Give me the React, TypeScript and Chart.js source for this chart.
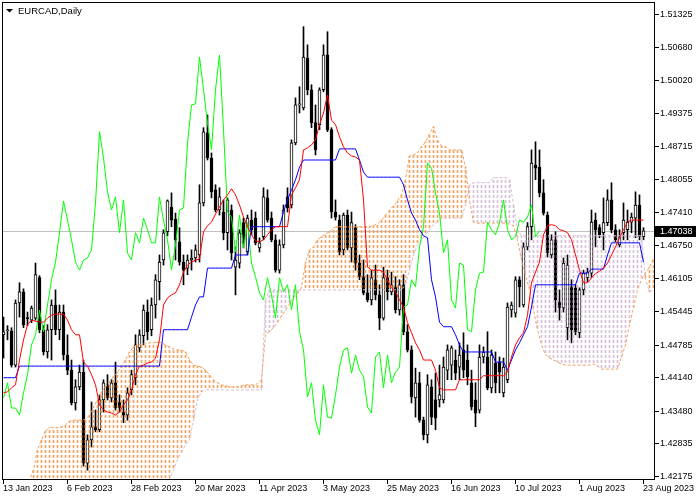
import React, { useEffect, useRef } from "react";
import { Chart, registerables } from "chart.js";

Chart.register(...registerables);

const chartTitle = "EURCAD,Daily";
const dateLabels = ["13 Jan 2023", "6 Feb 2023", "28 Feb 2023", "20 Mar 2023", "11 Apr 2023", "3 May 2023", "25 May 2023", "16 Jun 2023", "10 Jul 2023", "1 Aug 2023", "23 Aug 2023"];
const dateLabelBars = [0, 16, 32, 48, 64, 80, 96, 112, 128, 144, 160];
const priceTicks = [1.51325, 1.5068, 1.5002, 1.49375, 1.48715, 1.48055, 1.4741, 1.4675, 1.46105, 1.45445, 1.44785, 1.4414, 1.4348, 1.42835, 1.42175];
const lastPrice = 1.47038;
const chikouShift = 26;
const kumoBarOffset = 0.5;

const open = [
  1.4498, 1.4506, 1.4506, 1.4438, 1.4561, 1.4583, 1.4531, 1.4527, 1.4531, 1.4611,
  1.4508, 1.4464, 1.4508, 1.4557, 1.4508, 1.4543, 1.4458, 1.4428, 1.4363, 1.4395,
  1.4424, 1.4244, 1.4290, 1.4316, 1.4310, 1.4369, 1.4399, 1.4373, 1.4403, 1.4365,
  1.4345, 1.4339, 1.4389, 1.4413, 1.4472, 1.4496, 1.4543, 1.4508, 1.4557, 1.4603,
  1.4646, 1.4702, 1.4751, 1.4727, 1.4682, 1.4642, 1.4630, 1.4646, 1.4650, 1.4656,
  1.4759, 1.4898, 1.4848, 1.4785, 1.4745, 1.4741, 1.4700, 1.4745, 1.4632, 1.4640,
  1.4720, 1.4662, 1.4725, 1.4729, 1.4670, 1.4692, 1.4769, 1.4729, 1.4686, 1.4626,
  1.4676, 1.4771, 1.4755, 1.4878, 1.4953, 1.4947, 1.5046, 1.4983, 1.4918, 1.4914,
  1.4983, 1.5052, 1.4904, 1.4741, 1.4725, 1.4666, 1.4735, 1.4670, 1.4710, 1.4640,
  1.4613, 1.4581, 1.4567, 1.4607, 1.4577, 1.4531, 1.4611, 1.4583, 1.4593, 1.4547,
  1.4597, 1.4504, 1.4468, 1.4373, 1.4403, 1.4329, 1.4300, 1.4395, 1.4369, 1.4369,
  1.4369, 1.4428, 1.4438, 1.4448, 1.4434, 1.4468, 1.4448, 1.4403, 1.4369, 1.4349,
  1.4454, 1.4454, 1.4393, 1.4442, 1.4444, 1.4383, 1.4409, 1.4547, 1.4541, 1.4607,
  1.4557, 1.4672, 1.4712, 1.4834, 1.4830, 1.4779, 1.4735, 1.4656, 1.4686, 1.4563,
  1.4551, 1.4512, 1.4593, 1.4591, 1.4502, 1.4587, 1.4611, 1.4620, 1.4725, 1.4710,
  1.4700, 1.4720, 1.4765, 1.4706, 1.4676, 1.4700, 1.4706, 1.4721, 1.4729, 1.4755,
  1.4692,
];
const high = [
  1.4533, 1.4516, 1.4512, 1.4567, 1.4601, 1.4589, 1.4543, 1.4555, 1.4640, 1.4615,
  1.4516, 1.4518, 1.4567, 1.4587, 1.4557, 1.4557, 1.4498, 1.4448, 1.4409, 1.4438,
  1.4448, 1.4300, 1.4365, 1.4349, 1.4379, 1.4409, 1.4419, 1.4409, 1.4444, 1.4379,
  1.4369, 1.4393, 1.4428, 1.4498, 1.4508, 1.4557, 1.4567, 1.4571, 1.4617, 1.4656,
  1.4706, 1.4765, 1.4779, 1.4739, 1.4710, 1.4656, 1.4656, 1.4666, 1.4676, 1.4795,
  1.4908, 1.4933, 1.4858, 1.4795, 1.4789, 1.4765, 1.4769, 1.4755, 1.4672, 1.4706,
  1.4729, 1.4735, 1.4745, 1.4741, 1.4690, 1.4789, 1.4785, 1.4741, 1.4696, 1.4686,
  1.4755, 1.4789, 1.4884, 1.4967, 1.4989, 1.5108, 1.5072, 1.4993, 1.4953, 1.4987,
  1.5072, 1.5098, 1.4908, 1.4765, 1.4735, 1.4739, 1.4745, 1.4741, 1.4716, 1.4656,
  1.4646, 1.4617, 1.4626, 1.4636, 1.4597, 1.4632, 1.4626, 1.4622, 1.4613, 1.4607,
  1.4617, 1.4518, 1.4476, 1.4432, 1.4424, 1.4335, 1.4419, 1.4409, 1.4422, 1.4438,
  1.4454, 1.4478, 1.4476, 1.4468, 1.4482, 1.4502, 1.4478, 1.4428, 1.4403, 1.4478,
  1.4474, 1.4504, 1.4468, 1.4464, 1.4454, 1.4452, 1.4561, 1.4563, 1.4613, 1.4613,
  1.4680, 1.4720, 1.4864, 1.4880, 1.4864, 1.4805, 1.4741, 1.4696, 1.4702, 1.4587,
  1.4650, 1.4656, 1.4607, 1.4597, 1.4591, 1.4626, 1.4630, 1.4745, 1.4739, 1.4716,
  1.4769, 1.4785, 1.4799, 1.4716, 1.4706, 1.4759, 1.4745, 1.4739, 1.4781, 1.4775,
  1.4710,
];
const low = [
  1.4452, 1.4488, 1.4434, 1.4434, 1.4533, 1.4512, 1.4516, 1.4522, 1.4527, 1.4502,
  1.4458, 1.4452, 1.4448, 1.4498, 1.4488, 1.4448, 1.4419, 1.4359, 1.4349, 1.4389,
  1.4238, 1.4230, 1.4276, 1.4306, 1.4306, 1.4345, 1.4369, 1.4365, 1.4349, 1.4345,
  1.4324, 1.4329, 1.4379, 1.4399, 1.4464, 1.4478, 1.4488, 1.4496, 1.4531, 1.4567,
  1.4636, 1.4694, 1.4712, 1.4646, 1.4636, 1.4597, 1.4617, 1.4626, 1.4642, 1.4642,
  1.4753, 1.4844, 1.4769, 1.4741, 1.4735, 1.4686, 1.4666, 1.4646, 1.4577, 1.4630,
  1.4670, 1.4656, 1.4696, 1.4676, 1.4662, 1.4686, 1.4721, 1.4682, 1.4622, 1.4620,
  1.4670, 1.4741, 1.4749, 1.4874, 1.4937, 1.4943, 1.4973, 1.4908, 1.4854, 1.4904,
  1.4979, 1.4900, 1.4729, 1.4725, 1.4656, 1.4656, 1.4666, 1.4642, 1.4626, 1.4607,
  1.4577, 1.4563, 1.4557, 1.4567, 1.4508, 1.4527, 1.4567, 1.4577, 1.4541, 1.4537,
  1.4498, 1.4464, 1.4363, 1.4335, 1.4325, 1.4290, 1.4284, 1.4320, 1.4310, 1.4355,
  1.4363, 1.4409, 1.4409, 1.4409, 1.4409, 1.4413, 1.4399, 1.4349, 1.4316, 1.4343,
  1.4442, 1.4389, 1.4383, 1.4383, 1.4383, 1.4375, 1.4403, 1.4533, 1.4533, 1.4553,
  1.4553, 1.4666, 1.4686, 1.4805, 1.4771, 1.4735, 1.4652, 1.4650, 1.4543, 1.4527,
  1.4543, 1.4488, 1.4482, 1.4498, 1.4492, 1.4577, 1.4603, 1.4611, 1.4672, 1.4690,
  1.4666, 1.4714, 1.4700, 1.4682, 1.4672, 1.4686, 1.4686, 1.4700, 1.4690, 1.4686,
  1.4686,
];
const close = [
  1.4504, 1.4508, 1.4438, 1.4561, 1.4583, 1.4518, 1.4530, 1.4551, 1.4617, 1.4508,
  1.4464, 1.4508, 1.4557, 1.4508, 1.4543, 1.4458, 1.4428, 1.4363, 1.4395, 1.4424,
  1.4244, 1.4290, 1.4316, 1.4310, 1.4369, 1.4403, 1.4373, 1.4403, 1.4353, 1.4353,
  1.4339, 1.4383, 1.4419, 1.4478, 1.4498, 1.4547, 1.4504, 1.4557, 1.4607, 1.4642,
  1.4700, 1.4763, 1.4725, 1.4686, 1.4642, 1.4626, 1.4646, 1.4650, 1.4666, 1.4759,
  1.4900, 1.4848, 1.4781, 1.4745, 1.4771, 1.4700, 1.4765, 1.4660, 1.4646, 1.4700,
  1.4680, 1.4729, 1.4706, 1.4680, 1.4680, 1.4771, 1.4725, 1.4686, 1.4626, 1.4676,
  1.4745, 1.4749, 1.4878, 1.4953, 1.4955, 1.5048, 1.4983, 1.4918, 1.4864, 1.4983,
  1.5052, 1.4904, 1.4741, 1.4731, 1.4662, 1.4735, 1.4670, 1.4720, 1.4640, 1.4613,
  1.4581, 1.4567, 1.4611, 1.4577, 1.4531, 1.4611, 1.4583, 1.4597, 1.4547, 1.4597,
  1.4504, 1.4468, 1.4375, 1.4403, 1.4329, 1.4300, 1.4399, 1.4335, 1.4333, 1.4379,
  1.4434, 1.4468, 1.4472, 1.4422, 1.4458, 1.4428, 1.4415, 1.4355, 1.4343, 1.4454,
  1.4464, 1.4393, 1.4458, 1.4403, 1.4424, 1.4434, 1.4553, 1.4557, 1.4607, 1.4593,
  1.4672, 1.4712, 1.4838, 1.4828, 1.4779, 1.4739, 1.4660, 1.4686, 1.4567, 1.4551,
  1.4640, 1.4636, 1.4508, 1.4504, 1.4587, 1.4620, 1.4622, 1.4721, 1.4706, 1.4696,
  1.4720, 1.4765, 1.4706, 1.4686, 1.4692, 1.4725, 1.4721, 1.4731, 1.4755, 1.4692,
  1.47038,
];
const tenkan = [
  1.4383, 1.4385, 1.4393, 1.4399, 1.4448, 1.4488, 1.4518, 1.4527, 1.4525, 1.4523,
  1.4523, 1.4531, 1.4537, 1.4539, 1.4539, 1.4539, 1.4527, 1.4508, 1.4498, 1.4498,
  1.4444, 1.4436, 1.4419, 1.4399, 1.4359, 1.4349, 1.4345, 1.4343, 1.4339, 1.4345,
  1.4359, 1.4369, 1.4389, 1.4419, 1.4436, 1.4438, 1.4442, 1.4444, 1.4452, 1.4488,
  1.4557, 1.4571, 1.4577, 1.4581, 1.4597, 1.4622, 1.4636, 1.4642, 1.4646, 1.4648,
  1.4702, 1.4714, 1.4721, 1.4737, 1.4751, 1.4765, 1.4775, 1.4787, 1.4775, 1.4755,
  1.4731, 1.4712, 1.4696, 1.4684, 1.4682, 1.4686, 1.4696, 1.4706, 1.4712, 1.4712,
  1.4712, 1.4712, 1.4775, 1.4789, 1.4805, 1.4864, 1.4868, 1.4874, 1.4884, 1.4914,
  1.4937, 1.4973, 1.4923, 1.4914, 1.4890, 1.4870, 1.4858, 1.4852, 1.4850, 1.4844,
  1.4765, 1.4632, 1.4626, 1.4626, 1.4626, 1.4622, 1.4607, 1.4591, 1.4583, 1.4567,
  1.4553, 1.4522, 1.4502, 1.4482, 1.4468, 1.4448, 1.4448, 1.4448, 1.4428, 1.4393,
  1.4389, 1.4389, 1.4389, 1.4389, 1.4409, 1.4409, 1.4409, 1.4409, 1.4409, 1.4409,
  1.4417, 1.4417, 1.4417, 1.4417, 1.4417, 1.4417, 1.4424, 1.4454, 1.4478, 1.4492,
  1.4502, 1.4537, 1.4601, 1.4622, 1.4642, 1.4696, 1.4714, 1.4716, 1.4714, 1.4706,
  1.4704, 1.4700, 1.4686, 1.4656, 1.4626, 1.4601, 1.4601, 1.4611, 1.4619, 1.4624,
  1.4630, 1.4640, 1.4656, 1.4672, 1.4690, 1.4706, 1.4721, 1.4725, 1.4725, 1.4725,
  1.4725,
];
const kijun = [
  1.4413, 1.4413, 1.4413, 1.4413, 1.4436, 1.4436, 1.4436, 1.4436, 1.4436, 1.4436,
  1.4436, 1.4436, 1.4436, 1.4436, 1.4436, 1.4436, 1.4436, 1.4436, 1.4436, 1.4436,
  1.4436, 1.4436, 1.4436, 1.4436, 1.4436, 1.4436, 1.4436, 1.4436, 1.4436, 1.4436,
  1.4436, 1.4436, 1.4436, 1.4436, 1.4436, 1.4436, 1.4436, 1.4436, 1.4436, 1.4436,
  1.4508, 1.4508, 1.4508, 1.4508, 1.4508, 1.4508, 1.4508, 1.4533, 1.4557, 1.4573,
  1.4573, 1.4630, 1.4630, 1.4630, 1.4630, 1.4630, 1.4630, 1.4630, 1.4656, 1.4656,
  1.4656, 1.4656, 1.4712, 1.4712, 1.4712, 1.4712, 1.4712, 1.4712, 1.4712, 1.4712,
  1.4741, 1.4765, 1.4785, 1.4805, 1.4830, 1.4844, 1.4844, 1.4844, 1.4844, 1.4844,
  1.4844, 1.4844, 1.4844, 1.4844, 1.4866, 1.4866, 1.4866, 1.4866, 1.4866, 1.4844,
  1.4820, 1.4810, 1.4810, 1.4810, 1.4810, 1.4810, 1.4810, 1.4810, 1.4810, 1.4810,
  1.4795, 1.4765, 1.4739, 1.4725, 1.4706, 1.4694, 1.4690, 1.4607, 1.4573, 1.4523,
  1.4514, 1.4514, 1.4514, 1.4498, 1.4478, 1.4464, 1.4464, 1.4464, 1.4464, 1.4464,
  1.4464, 1.4464, 1.4464, 1.4444, 1.4444, 1.4444, 1.4428, 1.4448, 1.4468, 1.4482,
  1.4498, 1.4514, 1.4553, 1.4597, 1.4597, 1.4597, 1.4597, 1.4597, 1.4597, 1.4597,
  1.4597, 1.4597, 1.4597, 1.4597, 1.4620, 1.4620, 1.4620, 1.4628, 1.4628, 1.4628,
  1.4628, 1.4656, 1.4680, 1.4680, 1.4680, 1.4680, 1.4680, 1.4680, 1.4680, 1.4680,
  1.4642,
];
const senkouA = [
  1.4171, 1.4181, 1.4191, 1.4197, 1.4201, 1.4205, 1.4209, 1.4231, 1.4270, 1.4290,
  1.4308, 1.4314, 1.4314, 1.4314, 1.4316, 1.4320, 1.4327, 1.4329, 1.4329, 1.4329,
  1.4331, 1.4339, 1.4355, 1.4369, 1.4385, 1.4395, 1.4405, 1.4415, 1.4424, 1.4436,
  1.4448, 1.4464, 1.4474, 1.4478, 1.4480, 1.4480, 1.4482, 1.4482, 1.4484, 1.4482,
  1.4478, 1.4474, 1.4470, 1.4468, 1.4468, 1.4464, 1.4448, 1.4438, 1.4436, 1.4434,
  1.4428, 1.4419, 1.4409, 1.4403, 1.4399, 1.4397, 1.4395, 1.4395, 1.4395, 1.4397,
  1.4399, 1.4399, 1.4399, 1.4401, 1.4409, 1.4498, 1.4504, 1.4512, 1.4523, 1.4535,
  1.4547, 1.4559, 1.4571, 1.4579, 1.4591, 1.4642, 1.4666, 1.4672, 1.4686, 1.4692,
  1.4698, 1.4702, 1.4710, 1.4712, 1.4712, 1.4712, 1.4712, 1.4712, 1.4712, 1.4712,
  1.4712, 1.4712, 1.4714, 1.4718, 1.4725, 1.4735, 1.4745, 1.4753, 1.4763, 1.4775,
  1.4805, 1.4852, 1.4854, 1.4858, 1.4870, 1.4880, 1.4896, 1.4910, 1.4884, 1.4872,
  1.4870, 1.4864, 1.4864, 1.4864, 1.4864, 1.4830, 1.4765, 1.4721, 1.4719, 1.4719,
  1.4719, 1.4719, 1.4719, 1.4719, 1.4719, 1.4719, 1.4717, 1.4714, 1.4686, 1.4646,
  1.4617, 1.4587, 1.4547, 1.4508, 1.4478, 1.4458, 1.4452, 1.4448, 1.4444, 1.4440,
  1.4438, 1.4438, 1.4438, 1.4438, 1.4438, 1.4438, 1.4438, 1.4440, 1.4436, 1.4430,
  1.4430, 1.4430, 1.4430, 1.4430, 1.4454, 1.4478, 1.4518, 1.4551, 1.4587, 1.4607,
  1.4620, 1.4632, 1.4650,
];
const senkouB = [
  1.4161, 1.4161, 1.4161, 1.4161, 1.4161, 1.4161, 1.4161, 1.4161, 1.4161, 1.4161,
  1.4161, 1.4161, 1.4161, 1.4161, 1.4161, 1.4161, 1.4161, 1.4161, 1.4161, 1.4161,
  1.4161, 1.4161, 1.4161, 1.4161, 1.4161, 1.4161, 1.4161, 1.4161, 1.4161, 1.4161,
  1.4161, 1.4161, 1.4161, 1.4161, 1.4161, 1.4161, 1.4161, 1.4161, 1.4161, 1.4161,
  1.4161, 1.4211, 1.4231, 1.4251, 1.4266, 1.4280, 1.4290, 1.4329, 1.4369, 1.4385,
  1.4389, 1.4389, 1.4389, 1.4389, 1.4389, 1.4389, 1.4389, 1.4389, 1.4389, 1.4389,
  1.4389, 1.4389, 1.4389, 1.4389, 1.4389, 1.4567, 1.4587, 1.4587, 1.4587, 1.4587,
  1.4587, 1.4587, 1.4587, 1.4587, 1.4587, 1.4587, 1.4587, 1.4587, 1.4587, 1.4587,
  1.4587, 1.4587, 1.4587, 1.4587, 1.4587, 1.4587, 1.4587, 1.4587, 1.4587, 1.4587,
  1.4587, 1.4587, 1.4587, 1.4587, 1.4587, 1.4587, 1.4587, 1.4587, 1.4587, 1.4587,
  1.4597, 1.4626, 1.4656, 1.4676, 1.4686, 1.4696, 1.4706, 1.4716, 1.4721, 1.4729,
  1.4729, 1.4729, 1.4729, 1.4729, 1.4729, 1.4755, 1.4795, 1.4799, 1.4799, 1.4799,
  1.4799, 1.4799, 1.4809, 1.4809, 1.4809, 1.4809, 1.4805, 1.4755, 1.4706, 1.4694,
  1.4694, 1.4694, 1.4694, 1.4694, 1.4694, 1.4694, 1.4694, 1.4694, 1.4694, 1.4694,
  1.4694, 1.4694, 1.4694, 1.4694, 1.4694, 1.4694, 1.4694, 1.4694, 1.4694, 1.4694,
  1.4694, 1.4694, 1.4694, 1.4694, 1.4694, 1.4694, 1.4694, 1.4694, 1.4694, 1.4694,
  1.4607, 1.4583, 1.4587,
];

const FONT = '9px "Liberation Sans", Arial, sans-serif';

function dotPattern(ctx: CanvasRenderingContext2D, color: string) {
  const c = document.createElement("canvas");
  c.width = 1;
  c.height = 5;
  const g = c.getContext("2d")!;
  g.fillStyle = color;
  g.fillRect(0, 0, 1, 3);
  return ctx.createPattern(c, "repeat")!;
}

const decorPlugin = {
  id: "decor",
  beforeDraw(chart: any) {
    const { ctx } = chart;
    ctx.save();
    ctx.fillStyle = "#FFFFFF";
    ctx.fillRect(0, 0, chart.width, chart.height);
    ctx.restore();
  },
  beforeDatasetsDraw(chart: any) {
    const { ctx, chartArea: a, scales } = chart;
    const py = Math.round(scales.y.getPixelForValue(lastPrice)) + 0.5;
    ctx.save();
    ctx.strokeStyle = "#C0C0C0";
    ctx.lineWidth = 1;
    ctx.beginPath();
    ctx.moveTo(a.left, py);
    ctx.lineTo(a.right, py);
    ctx.stroke();
    ctx.restore();
  },
  afterDraw(chart: any) {
    const { ctx, chartArea: a, scales } = chart;
    const xs = scales.x;
    const ys = scales.y;
    ctx.save();
    ctx.strokeStyle = "#000000";
    ctx.lineWidth = 1;
    ctx.strokeRect(a.left + 0.5, a.top + 0.5, a.right - a.left, a.bottom - a.top);
    ctx.fillStyle = "#000000";
    ctx.font = FONT;
    ctx.textAlign = "left";
    ctx.textBaseline = "middle";
    priceTicks.forEach((v) => {
      const py = Math.round(ys.getPixelForValue(v));
      ctx.fillRect(a.right + 1, py, 4, 1);
      ctx.fillText(v.toFixed(5), a.right + 6, py + 0.5);
    });
    dateLabelBars.forEach((b, k) => {
      const px = Math.floor(xs.getPixelForValue(b));
      ctx.fillRect(px, a.bottom + 1, 1, 4);
      ctx.fillText(dateLabels[k], px, a.bottom + 9.5);
    });
    const lp = Math.round(ys.getPixelForValue(lastPrice));
    ctx.fillRect(a.right + 1, lp - 5, 41, 11);
    ctx.fillStyle = "#FFFFFF";
    ctx.fillText(lastPrice.toFixed(5), a.right + 6, lp + 0.5);
    ctx.fillStyle = "#000000";
    ctx.beginPath();
    ctx.moveTo(6, 9);
    ctx.lineTo(13, 9);
    ctx.lineTo(9.5, 12.5);
    ctx.closePath();
    ctx.fill();
    ctx.font = '9.5px "Liberation Sans", Arial, sans-serif';
    ctx.fillText(chartTitle, 18, 11);
    ctx.restore();
  },
};

export default function App() {
  const ref = useRef<HTMLCanvasElement | null>(null);

  useEffect(() => {
    const canvas = ref.current!;
    const ctx = canvas.getContext("2d")!;
    const upKumo = dotPattern(ctx, "#F4A460");
    const downKumo = dotPattern(ctx, "#D8BFD8");

    const chart = new Chart(canvas, {
      type: "line",
      data: {
        datasets: [
          {
            type: "line",
            label: "Tenkan-sen",
            data: tenkan.map((v, i) => ({ x: i, y: v })),
            borderColor: "#FF0000",
            borderWidth: 1,
            pointRadius: 0,
            order: 1,
          },
          {
            type: "line",
            label: "Kijun-sen",
            data: kijun.map((v, i) => ({ x: i, y: v })),
            borderColor: "#0000FF",
            borderWidth: 1,
            pointRadius: 0,
            order: 2,
          },
          {
            type: "line",
            label: "Chikou Span",
            data: close.slice(chikouShift).map((v, j) => ({ x: j, y: v })),
            borderColor: "#00FF00",
            borderWidth: 1,
            pointRadius: 0,
            order: 3,
          },
          {
            type: "line",
            label: "Senkou Span A",
            data: senkouA.map((v, i) => ({ x: i + kumoBarOffset, y: v })),
            borderColor: "#F4A460",
            borderWidth: 1,
            borderDash: [3, 2],
            pointRadius: 0,
            order: 4,
          },
          {
            type: "line",
            label: "Senkou Span B",
            data: senkouB.map((v, i) => ({ x: i + kumoBarOffset, y: v })),
            borderColor: "#D8BFD8",
            borderWidth: 1,
            borderDash: [3, 2],
            pointRadius: 0,
            order: 4,
          },
          {
            type: "bar",
            label: "Kumo",
            data: senkouA.map((v, i) => ({ x: i + kumoBarOffset, y: [v, senkouB[i]] })),
            backgroundColor: senkouA.map((v, i) => (v >= senkouB[i] ? upKumo : downKumo)),
            borderWidth: 0,
            barThickness: 1,
            grouped: false,
            order: 6,
          } as any,
          {
            type: "bar",
            label: "Body",
            data: open.map((v, i) => ({ x: i, y: [v, close[i]] })),
            backgroundColor: open.map((v, i) => (close[i] >= v ? "#FFFFFF" : "#000000")),
            borderColor: "#000000",
            borderWidth: 1,
            borderSkipped: false,
            barThickness: 3,
            minBarLength: 1,
            grouped: false,
            order: 8,
          } as any,
          {
            type: "bar",
            label: "Wick",
            data: low.map((v, i) => ({ x: i, y: [v, high[i]] })),
            backgroundColor: "#000000",
            borderWidth: 0,
            barThickness: 1,
            grouped: false,
            order: 9,
          } as any,
        ],
      },
      options: {
        responsive: false,
        animation: false,
        devicePixelRatio: 1,
        events: [],
        layout: { padding: { left: 2, top: 2, right: 46, bottom: 21 } },
        plugins: { legend: { display: false }, tooltip: { enabled: false } },
        scales: {
          x: { type: "linear", min: -0.375, max: 162.625, display: false, offset: false },
          y: { type: "linear", min: 1.42125, max: 1.51568, display: false, beginAtZero: false },
        },
      },
      plugins: [decorPlugin],
    } as any);

    return () => chart.destroy();
  }, []);

  return (
    <div style={{ position: "absolute", left: 0, top: 0, width: 700, height: 500 }}>
      <canvas ref={ref} width={700} height={500} />
    </div>
  );
}
